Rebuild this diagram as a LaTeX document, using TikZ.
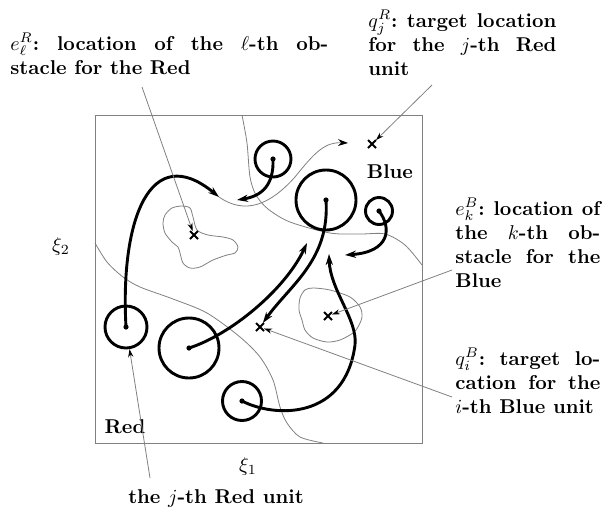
\documentclass[tikz,border=0pt]{standalone}
\usetikzlibrary{arrows.meta,shapes.misc}

\begin{document}
\begin{tikzpicture}[x=0.5pt,y=-0.5pt,
  robot/.style={circle, draw, line width=1.45pt, minimum size=#1, inner sep=0pt},
  goal/.style={cross out, draw, line width=1pt, minimum size=3pt, inner sep=0pt},
  traj/.style={-{Stealth[length=5.5pt,width=3.6pt]}, line width=1.45pt},
  plan/.style={gray, line width=0.4pt},
  lead/.style={gray, line width=0.4pt, -{Stealth[length=4pt,width=2.6pt,black]}},
  lbl/.style={font=\bfseries\frenchspacing, align=justify, inner sep=0pt}
]
  \useasboundingbox (0,0) rectangle (606,510);

  % workspace
  \draw[gray, line width=0.5pt] (95,115) rectangle (422,443);
  \node (xi2) at (61,246) {$\xi_2$};
  \node (xi1) at (248,466) {$\xi_1$};
  \node[font=\bfseries, anchor=base] (red) at (125,433) {Red};
  \node[font=\bfseries, anchor=base] (blue) at (390,178) {Blue};

  % boundaries and obstacles
  \draw[plan] plot[smooth] coordinates {(242,115) (247,143) (250,177) (256,195) (268,209) (290,222) (330,233) (360,234) (385,234) (405,245) (422,265)};
  \draw[plan] plot[smooth] coordinates {(95,243) (107,262) (123,277) (140,287) (173,299) (207,313) (240,337) (260,357) (273,380) (280,407) (287,423) (300,437) (323,443)};
  \draw[plan] plot[smooth cycle] coordinates {(163,223) (165,215) (172,208) (182,206) (190,208) (193,217) (197,230) (208,235) (223,237) (233,240) (238,247) (235,253) (227,255) (213,260) (200,267) (190,268) (183,263) (180,253) (178,247) (172,242) (165,233)};
  \draw[plan] plot[smooth cycle] coordinates {(305,290) (313,288) (330,290) (350,297) (360,307) (362,317) (358,327) (353,333) (340,340) (327,342) (313,338) (305,330) (302,320) (299,310) (300,298)};

  % units
  \node[robot=18pt] (rTop) at (273,159) {};
  \node[robot=30pt] (rBig) at (326,200) {};
  \node[robot=13.5pt] (rSmall) at (379,211) {};
  \node[robot=21pt] (rLeft) at (126,327) {};
  \node[robot=30pt] (rMid) at (189,348) {};
  \node[robot=19.5pt] (rBot) at (242,401) {};
  \foreach \n in {rTop,rBig,rSmall,rLeft,rMid,rBot}
    \fill (\n.center) circle (2.6);

  % targets
  \node[goal] (qR) at (372,144) {};
  \node[goal] (eR) at (194,235) {};
  \node[goal] (eB) at (328,316) {};
  \node[goal] (qB) at (260,327) {};

  % trajectories
  \coordinate (pR) at (219,197);
  \coordinate (aR) at (348,143);
  \coordinate (pTop) at (237,200);
  \coordinate (pMid) at (307,243);
  \coordinate (pSmall) at (345,255);
  \coordinate (pBot) at (329,254);
  \draw[traj] (rLeft.center) .. controls (120,220) and (150,140) .. (pR);
  \draw[plan, -{Stealth[length=5pt,width=3.4pt,black]}] (pR) .. controls (245,215) and (270,205) .. (295,177) .. controls (315,152) and (325,142) .. (aR);
  \draw[traj] (rTop.center) .. controls (274,185) and (262,196) .. (pTop);
  \draw[traj] (rBig.center) .. controls (330,260) and (290,285) .. (qB);
  \draw[traj] (rMid.center) .. controls (230,335) and (285,290) .. (pMid);
  \draw[traj] (rSmall.center) .. controls (392,228) and (390,252) .. (pSmall);
  \draw[traj] (rBot.center) .. controls (275,418) and (345,420) .. (355,345) .. controls (358,320) and (330,290) .. (pBot);

  % labels
  \node[lbl, text width=159pt, anchor=base west] (eRtxt) at (10,50) {$e_\ell^R$: location of the $\ell$-th ob-\linebreak stacle for the Red};
  \node[lbl, text width=94pt, anchor=base west] (qRtxt) at (368,27) {$q_j^R$: target location\linebreak for the $j$-th Red\linebreak unit};
  \node[lbl, text width=72.5pt, anchor=base west] (eBtxt) at (455,215) {$e_k^B$: location of\linebreak the $k$-th ob-\linebreak stacle for the\linebreak Blue};
  \node[lbl, text width=72.5pt, anchor=base west] (qBtxt) at (455,365) {$q_i^B$: target lo-\linebreak cation for the\linebreak $i$-th Blue unit};
  \node[lbl, anchor=base] (uRtxt) at (216,503) {the $j$-th Red unit};

  \coordinate (eRend) at (142,87);
  \coordinate (qRend) at (432,85);
  \coordinate (eBend) at (452,270);
  \coordinate (qBend) at (452,397);
  \coordinate (uRend) at (150,478);
  \draw[lead] (eRend) -- (eR);
  \draw[lead] (qRend) -- (qR);
  \draw[lead] (eBend) -- (eB);
  \draw[lead] (qBend) -- (qB);
  \draw[lead] (uRend) -- (rLeft);
\end{tikzpicture}
\end{document}
